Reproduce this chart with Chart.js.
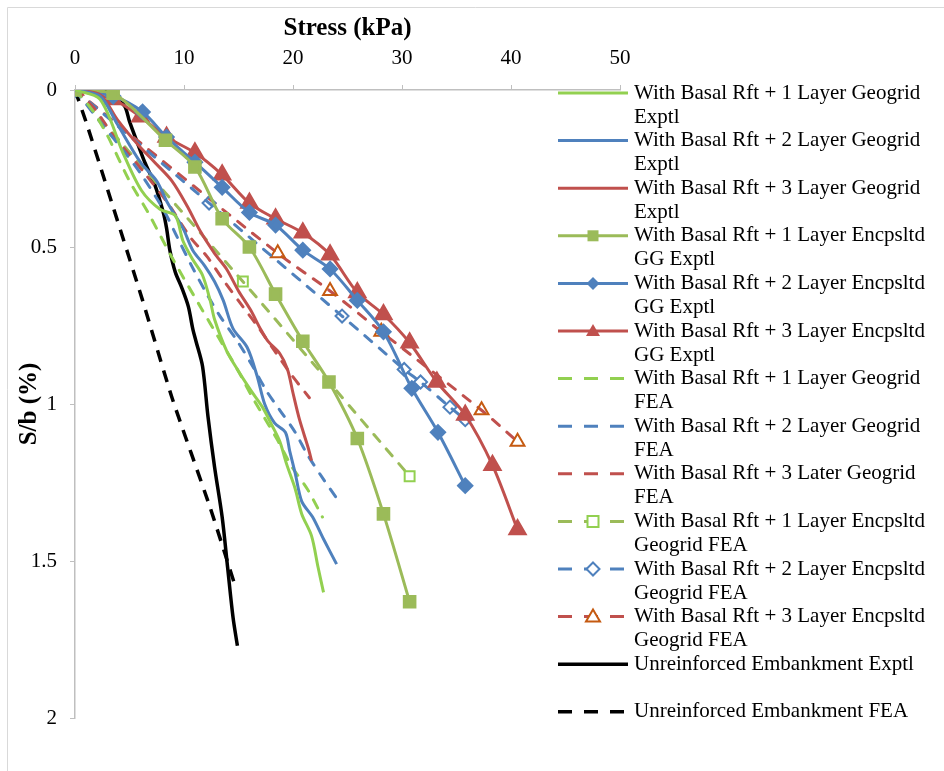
<!DOCTYPE html>
<html>
<head>
<meta charset="utf-8">
<script src="https://cdn.jsdelivr.net/npm/chart.js@4/dist/chart.umd.min.js"></script>
<style>
  html, body { margin: 0; padding: 0; background: #fff; }
  #wrap { width: 944px; height: 771px; position: relative; }
</style>
</head>
<body>
<div id="wrap"><canvas id="myChart" width="944" height="771"></canvas></div>
<script>
// stress (kPa) and settlement ratio S/b (%)
const xTicks = [0, 10, 20, 30, 40, 50];
const yTicks = [0, 0.5, 1, 1.5, 2];

const stressGG1 = [0, 2.3, 4.4, 6.1, 7.8, 9.2, 9.9, 10.8, 11.7, 12.4, 12.8, 13.9, 14.9, 16.1, 17.2, 18.1, 18.8, 19.4, 20.2, 20.8, 21.7, 22.3, 22.8];
const sbGG1     = [0, 0.03, 0.2, 0.32, 0.38, 0.4, 0.48, 0.54, 0.59, 0.67, 0.73, 0.83, 0.89, 0.955, 1.01, 1.07, 1.12, 1.19, 1.27, 1.35, 1.42, 1.52, 1.6];

const stressGG2 = [0, 2.3, 3.9, 6.0, 7.5, 8.5, 9.9, 10.8, 11.9, 12.8, 13.6, 14.5, 15.8, 16.7, 17.4, 18.3, 19.3, 19.7, 20.2, 20.8, 21.8, 22.8, 24.0];
const sbGG2     = [0, 0.02, 0.11, 0.23, 0.29, 0.36, 0.44, 0.51, 0.56, 0.61, 0.67, 0.76, 0.82, 0.91, 1.0, 1.06, 1.09, 1.15, 1.22, 1.31, 1.36, 1.43, 1.51];

const stressGG3 = [0, 2.3, 3.9, 5.8, 7.3, 8.9, 10.3, 11.5, 12.8, 13.9, 15.0, 16.1, 17.0, 17.7, 18.8, 19.5, 20.0, 20.6, 21.4, 21.7];
const sbGG3     = [0, 0.015, 0.095, 0.175, 0.23, 0.29, 0.37, 0.45, 0.52, 0.57, 0.64, 0.7, 0.76, 0.8, 0.84, 0.89, 0.965, 1.05, 1.14, 1.18];

const stressEGG1 = [0, 3.5, 8.3, 11.0, 13.5, 16.0, 18.4, 20.9, 23.3, 25.9, 28.3, 30.7];
const sbEGG1     = [0, 0.01, 0.16, 0.245, 0.41, 0.5, 0.65, 0.8, 0.93, 1.11, 1.35, 1.63];

const stressEGG2 = [0, 3.5, 6.2, 8.4, 11.0, 13.5, 16.0, 18.4, 20.9, 23.4, 25.9, 28.3, 30.9, 33.3, 35.8];
const sbEGG2     = [0, 0.02, 0.07, 0.15, 0.23, 0.31, 0.39, 0.43, 0.51, 0.57, 0.67, 0.77, 0.95, 1.09, 1.26];

const stressEGG3 = [0, 3.5, 6.0, 8.4, 11.0, 13.5, 16.0, 18.4, 20.9, 23.4, 25.9, 28.3, 30.7, 33.2, 35.8, 38.3, 40.6];
const sbEGG3     = [0, 0.03, 0.085, 0.15, 0.2, 0.27, 0.36, 0.41, 0.455, 0.525, 0.645, 0.715, 0.805, 0.93, 1.035, 1.195, 1.4];

const stressGG1fea = [0, 1.5, 2.9, 5.0, 6.7, 9.0, 11.5, 13.2, 14.9, 16.3, 18.5, 19.9, 21.3, 22.7];
const sbGG1fea     = [0, 0.06, 0.14, 0.29, 0.39, 0.54, 0.69, 0.79, 0.89, 0.98, 1.11, 1.2, 1.27, 1.36];

const stressGG2fea = [0, 2.5, 4.6, 6.1, 8.1, 9.4, 10.7, 12.1, 13.3, 14.9, 16.3, 17.6, 18.8, 20.2, 21.3, 22.8, 24.0];
const sbGG2fea     = [0, 0.11, 0.2, 0.27, 0.38, 0.47, 0.56, 0.65, 0.72, 0.8, 0.88, 0.96, 1.02, 1.09, 1.16, 1.24, 1.3];

const stressGG3fea = [0, 1.8, 3.4, 4.6, 6.5, 8.5, 10.6, 12.1, 13.5, 15.4, 16.7, 18.3, 19.7, 21.5];
const sbGG3fea     = [0, 0.06, 0.14, 0.19, 0.27, 0.36, 0.47, 0.53, 0.6, 0.69, 0.75, 0.83, 0.9, 0.98];

const stressEGG1fea = [0, 15.4, 23.3, 30.7];
const sbEGG1fea     = [0, 0.61, 0.93, 1.23];

const stressEGG2fea = [0, 12.3, 24.5, 30.2, 31.7, 34.4, 35.8];
const sbEGG2fea     = [0, 0.36, 0.72, 0.89, 0.93, 1.01, 1.05];

const stressEGG3fea = [0, 18.6, 23.4, 28.1, 37.3, 40.6];
const sbEGG3fea     = [0, 0.52, 0.64, 0.77, 1.02, 1.12];

const stressUnr = [0, 2.75, 3.9, 4.6, 5.0, 5.7, 6.4, 7.3, 8.1, 8.4, 8.7, 9.2, 9.8, 10.4, 10.8, 11.1, 11.7, 12.2, 12.8, 13.5, 14.0, 14.5, 14.9];
const sbUnr     = [0, 0, 0.025, 0.054, 0.1, 0.166, 0.23, 0.3, 0.39, 0.44, 0.51, 0.58, 0.63, 0.69, 0.76, 0.8, 0.88, 1.04, 1.2, 1.36, 1.52, 1.68, 1.77];

const stressUnrFea = [0, 1.0, 3.2, 6.2, 8.9, 12.4, 14.7];
const sbUnrFea     = [0, 0.1, 0.34, 0.67, 0.98, 1.33, 1.58];

function pts(xs, ys) {
    return xs.map((x, i) => ({ x: x, y: ys[i] }));
}

const LGREEN = '#92D050', GREEN = '#9BBB59', BLUE = '#4F81BD', RED = '#C0504D', ORANGE = '#C55A11';
const DASH = [9, 10];
const SERIF = '"Liberation Serif", "Times New Roman", serif';

function solid(label, xs, ys, color) {
    return { label: label, data: pts(xs, ys), borderColor: color, backgroundColor: color,
             borderWidth: 3, pointRadius: 0, showLine: true, tension: 0.3 };
}
function dashed(label, xs, ys, color) {
    return { label: label, data: pts(xs, ys), borderColor: color, backgroundColor: color,
             borderWidth: 3, borderDash: DASH, borderCapStyle: 'round', pointRadius: 0, showLine: true, tension: 0.3 };
}

const datasets = [
    solid(['With Basal Rft + 1 Layer Geogrid', 'Exptl'], stressGG1, sbGG1, LGREEN),
    solid(['With Basal Rft + 2 Layer Geogrid', 'Exptl'], stressGG2, sbGG2, BLUE),
    solid(['With Basal Rft + 3 Layer Geogrid', 'Exptl'], stressGG3, sbGG3, RED),
    Object.assign(solid(['With Basal Rft + 1 Layer Encpsltd', 'GG Exptl'], stressEGG1, sbEGG1, GREEN),
        { pointStyle: 'rect', pointRadius: 7.5, mk: 'square', mkFill: GREEN, mkStroke: GREEN }),
    Object.assign(solid(['With Basal Rft + 2 Layer Encpsltd', 'GG Exptl'], stressEGG2, sbEGG2, BLUE),
        { pointStyle: 'rectRot', pointRadius: 6.5, mk: 'diamond', mkFill: BLUE, mkStroke: BLUE }),
    Object.assign(solid(['With Basal Rft + 3 Layer Encpsltd', 'GG Exptl'], stressEGG3, sbEGG3, RED),
        { pointStyle: 'triangle', pointRadius: 8.5, mk: 'triangle', mkFill: RED, mkStroke: RED }),
    dashed(['With Basal Rft + 1 Layer Geogrid', 'FEA'], stressGG1fea, sbGG1fea, LGREEN),
    dashed(['With Basal Rft + 2 Layer Geogrid', 'FEA'], stressGG2fea, sbGG2fea, BLUE),
    dashed(['With Basal Rft + 3 Later Geogrid', 'FEA'], stressGG3fea, sbGG3fea, RED),
    Object.assign(dashed(['With Basal Rft + 1 Layer Encpsltd', 'Geogrid FEA'], stressEGG1fea, sbEGG1fea, GREEN),
        { pointStyle: 'rect', pointRadius: 7, pointBorderWidth: 2, pointBorderColor: LGREEN, pointBackgroundColor: 'rgba(0,0,0,0)',
          mk: 'square', mkFill: null, mkStroke: LGREEN }),
    Object.assign(dashed(['With Basal Rft + 2 Layer Encpsltd', 'Geogrid FEA'], stressEGG2fea, sbEGG2fea, BLUE),
        { pointStyle: 'rectRot', pointRadius: 6.5, pointBorderWidth: 2, pointBorderColor: BLUE, pointBackgroundColor: 'rgba(0,0,0,0)',
          mk: 'diamond', mkFill: null, mkStroke: BLUE }),
    Object.assign(dashed(['With Basal Rft + 3 Layer Encpsltd', 'Geogrid FEA'], stressEGG3fea, sbEGG3fea, RED),
        { pointStyle: 'triangle', pointRadius: 8, pointBorderWidth: 2, pointBorderColor: ORANGE, pointBackgroundColor: 'rgba(0,0,0,0)',
          mk: 'triangle', mkFill: null, mkStroke: ORANGE }),
    Object.assign(solid(['Unreinforced Embankment Exptl'], stressUnr, sbUnr, '#000'), { borderWidth: 3.5 }),
    Object.assign(solid(['Unreinforced Embankment FEA'], stressUnrFea, sbUnrFea, '#000'),
        { borderWidth: 3.5, borderDash: [12, 9], tension: 0.2 })
];

function drawMarker(ctx, kind, x, y, fill, stroke) {
    ctx.save();
    ctx.setLineDash([]);
    ctx.beginPath();
    if (kind === 'square') {
        ctx.rect(x - 5.5, y - 5.5, 11, 11);
    } else if (kind === 'diamond') {
        ctx.moveTo(x, y - 6.5); ctx.lineTo(x + 6.5, y); ctx.lineTo(x, y + 6.5); ctx.lineTo(x - 6.5, y);
        ctx.closePath();
    } else {
        ctx.moveTo(x, y - 7); ctx.lineTo(x + 7, y + 5); ctx.lineTo(x - 7, y + 5);
        ctx.closePath();
    }
    if (fill) { ctx.fillStyle = fill; ctx.fill(); }
    else { ctx.fillStyle = '#fff'; ctx.fill(); ctx.lineWidth = 2; ctx.strokeStyle = stroke; ctx.stroke(); }
    ctx.restore();
}

// titles, frame and the wrapped legend on the right
const extras = {
    id: 'extras',
    afterDraw(chart) {
        const ctx = chart.ctx;
        const area = chart.chartArea;
        ctx.save();
        ctx.strokeStyle = '#D9D9D9';
        ctx.lineWidth = 1;
        ctx.beginPath();
        ctx.moveTo(7.5, 771); ctx.lineTo(7.5, 7.5); ctx.lineTo(944, 7.5);
        ctx.stroke();

        ctx.fillStyle = '#000';
        ctx.font = 'bold 25px ' + SERIF;
        ctx.textAlign = 'center';
        ctx.textBaseline = 'middle';
        ctx.fillText('Stress (kPa)', (area.left + area.right) / 2, 29);
        ctx.translate(30, (area.top + area.bottom) / 2);
        ctx.rotate(-Math.PI / 2);
        ctx.fillText('S/b (%)', 0, 0);
        ctx.restore();

        ctx.save();
        ctx.font = '21px ' + SERIF;
        ctx.textAlign = 'left';
        ctx.textBaseline = 'middle';
        chart.data.datasets.forEach((ds, i) => {
            const y = 93 + i * 47.6;
            ctx.save();
            ctx.strokeStyle = ds.borderColor;
            ctx.lineWidth = ds.borderWidth;
            ctx.lineCap = 'butt';
            ctx.setLineDash(ds.borderDash ? [14, 12] : []);
            ctx.beginPath();
            ctx.moveTo(558, y);
            ctx.lineTo(628, y);
            ctx.stroke();
            ctx.restore();
            if (ds.mk) drawMarker(ctx, ds.mk, 593, y, ds.mkFill, ds.mkStroke);
            ctx.fillStyle = '#000';
            ds.label.forEach((line, k) => ctx.fillText(line, 634, y + k * 24));
        });
        ctx.restore();
    }
};

const ctx = document.getElementById('myChart').getContext('2d');
const myChart = new Chart(ctx, {
    type: 'scatter',
    data: { datasets: datasets },
    options: {
        responsive: false,
        animation: false,
        layout: { padding: { top: 0, left: 0, right: 324, bottom: 53 } },
        plugins: {
            legend: { display: false },
            tooltip: { enabled: false }
        },
        scales: {
            x: {
                type: 'linear',
                position: 'top',
                min: 0,
                max: 50,
                afterFit(scale) { scale.height = 90; },
                afterBuildTicks(scale) { scale.ticks = xTicks.map(v => ({ value: v })); },
                grid: { drawOnChartArea: false, drawTicks: true, tickLength: 5, color: '#BFBFBF' },
                border: { color: '#BFBFBF', width: 1.5 },
                ticks: { color: '#000', padding: 14, font: { family: SERIF, size: 21 },
                         callback: v => String(v) }
            },
            y: {
                type: 'linear',
                reverse: true,
                min: 0,
                max: 2,
                afterFit(scale) { scale.width = 75; },
                afterBuildTicks(scale) { scale.ticks = yTicks.map(v => ({ value: v })); },
                grid: { drawOnChartArea: false, drawTicks: true, tickLength: 5, color: '#BFBFBF' },
                border: { color: '#BFBFBF', width: 1.5 },
                ticks: { color: '#000', padding: 13, font: { family: SERIF, size: 21 },
                         callback: v => String(v) }
            }
        }
    },
    plugins: [extras]
});
</script>
</body>
</html>
